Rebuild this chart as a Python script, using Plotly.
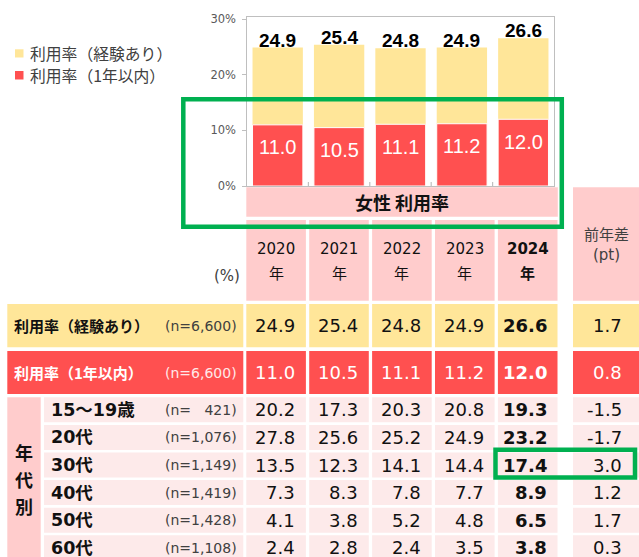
import plotly.graph_objects as go

# ---------------- data ----------------
years = [2020, 2021, 2022, 2023, 2024]
exp_rate = [24.9, 25.4, 24.8, 24.9, 26.6]        # 利用率（経験あり）
recent_rate = [11.0, 10.5, 11.1, 11.2, 12.0]     # 利用率（1年以内）
exp_diff = 1.7
recent_diff = 0.8
main_labels = ["利用率（経験あり）", "利用率（1年以内）"]
main_n = ["(n=6,600)", "(n=6,600)"]

age_labels = ["15～19歳", "20代", "30代", "40代", "50代", "60代"]
age_n = ["(n=\u2007\u2008421)", "(n=1,076)", "(n=1,149)", "(n=1,419)", "(n=1,428)", "(n=1,108)"]
age_15_19 = [20.2, 17.3, 20.3, 20.8, 19.3]
age_20s = [27.8, 25.6, 25.2, 24.9, 23.2]
age_30s = [13.5, 12.3, 14.1, 14.4, 17.4]
age_40s = [7.3, 8.3, 7.8, 7.7, 8.9]
age_50s = [4.1, 3.8, 5.2, 4.8, 6.5]
age_60s = [2.4, 2.8, 2.4, 3.5, 3.8]
age_diff = [-1.5, -1.7, 3.0, 1.2, 1.7, 0.3]
age_values = [age_15_19, age_20s, age_30s, age_40s, age_50s, age_60s]
y_ticks = [0, 10, 20, 30]

# ---------------- style ----------------
YELLOW = "#ffe699"
RED = "#ff5050"
PINK = "#ffcccc"
LIGHT = "#fdeaea"
GREEN = "#00b050"
DARK = "#111111"
GRAY = "#404040"
JP = "Noto Sans CJK JP"
NUM = "DejaVu Sans, Noto Sans CJK JP"
BARF = "Liberation Sans, Arial"

W, H = 639, 557
PL, PR, PT, PB = 247, 554, 17, 186


def X(px):
    return (px - PL) / (PR - PL)


def Y(py):
    return (PB - py) / (PB - PT)


fig = go.Figure()
fig.add_trace(go.Bar(
    x=years, y=exp_rate, name=main_labels[0], marker=dict(color=YELLOW, line=dict(width=0)),
    showlegend=False, hoverinfo="skip"))
fig.add_trace(go.Bar(
    x=years, y=recent_rate, name=main_labels[1], marker=dict(color=RED, line=dict(width=1, color="#ffffff")),
    showlegend=False, hoverinfo="skip"))

shapes = []
annotations = []


def rect(x0, y0, x1, y1, color):
    shapes.append(dict(type="rect", xref="paper", yref="paper", x0=X(x0), x1=X(x1), y0=Y(y1), y1=Y(y0),
                       fillcolor=color, line=dict(width=0), layer="above"))


def frame(x0, y0, x1, y1):
    shapes.append(dict(type="rect", xref="paper", yref="paper", x0=X(x0), x1=X(x1), y0=Y(y1), y1=Y(y0),
                       fillcolor="rgba(0,0,0,0)", line=dict(width=4.5, color=GREEN), layer="above"))


def text(px, py, t, size, color=DARK, family=NUM, anchor="center", bold=False):
    if bold:
        t = f"<b>{t}</b>"
    annotations.append(dict(xref="paper", yref="paper", x=X(px), y=Y(py), text=t, showarrow=False,
                            xanchor=anchor, yanchor="middle", align=anchor,
                            font=dict(family=family, size=size, color=color)))


# bar value labels
for yr, v in zip(years, exp_rate):
    annotations.append(dict(xref="x", yref="y", x=yr, y=v, yshift=7.5, text=f"<b>{v:.1f}</b>", showarrow=False,
                            yanchor="middle", font=dict(family=BARF, size=19, color="#000000")))
for yr, v in zip(years, recent_rate):
    annotations.append(dict(xref="x", yref="y", x=yr, y=v, yshift=-22.5, text=f"{v:.1f}", showarrow=False,
                            yanchor="middle", font=dict(family=BARF, size=20, color="#ffffff")))

# boundary ticks on the bar axis (between years)
for a, b in zip(years[:-1], years[1:]):
    shapes.append(dict(type="line", xref="x", yref="paper", x0=(a + b) / 2, x1=(a + b) / 2,
                       y0=0, y1=Y(PB - 4), line=dict(color="#bfbfbf", width=1.2), layer="above"))

# legend (manual)
rect(15, 49.3, 23.5, 57.5, YELLOW)
rect(15, 71, 23.5, 79.5, RED)
text(28, 53.3, main_labels[0], 15.8, GRAY, JP, "left")
text(28, 75, main_labels[1], 15.8, GRAY, JP, "left")

# column geometry
col_x0 = [246.3 + i * 62.9 for i in range(len(years))]
COLW = 59.6
DX0, DX1 = 573, 640

# header band
rect(246.3, 187.3, 557.8, 216.7, PINK)
text(402, 202, "女性 利用率", 18, DARK, JP, bold=True)
# year header cells
for i, yr in enumerate(years):
    rect(col_x0[i], 220, col_x0[i] + COLW, 300.7, PINK)
    b = i == len(years) - 1
    text(col_x0[i] + COLW / 2, 249, str(yr), 15, DARK, NUM, bold=b)
    text(col_x0[i] + COLW / 2, 272, "年", 15, DARK, JP, bold=b)
rect(DX0, 187.3, DX1, 300.7, PINK)
text(606, 233.3, "前年差", 15, GRAY, JP)
text(606, 255, "(pt)", 15, GRAY, NUM)
text(241.7, 275.7, "(%)", 15, GRAY, NUM, "right")

# main rows
main_rows = [(exp_rate, exp_diff, YELLOW, DARK, GRAY, 304, 347.3),
             (recent_rate, recent_diff, RED, "#ffffff", "#ffe8e8", 351, 394)]
for k, (vals, dv, bg, fg, ncol, y0, y1) in enumerate(main_rows):
    yc = (y0 + y1) / 2
    rect(7.3, y0, 243.3, y1, bg)
    text(11.7, yc, main_labels[k], 15, fg, JP, "left", bold=True)
    text(238.5, yc, main_n[k], 14, ncol, NUM, "right")
    for i, v in enumerate(vals):
        rect(col_x0[i], y0, col_x0[i] + COLW, y1, bg)
        text(col_x0[i] + COLW - 9, yc, f"{v:.1f}", 18, fg, NUM, "right", bold=(i == len(vals) - 1))
    rect(DX0, y0, DX1, y1, bg)
    text(623.5, yc, f"{dv:.1f}", 18, fg, NUM, "right")

# age rows
rect(7.3, 397.3, 40.7, 560, PINK)
for j, ch in enumerate("年代別"):
    text(24.2, 452.5 + j * 26.7, ch, 18, DARK, JP, bold=True)
for r, (lab, n, vals, dv) in enumerate(zip(age_labels, age_n, age_values, age_diff)):
    y0 = 397.3 + r * 27.6
    y1 = y0 + 25
    yc = (y0 + y1) / 2
    rect(44, y0, 243.3, y1, LIGHT)
    text(48.5, yc, lab, 17.5, DARK, NUM, "left", bold=True)
    text(238.5, yc, n, 14, GRAY, NUM, "right")
    for i, v in enumerate(vals):
        rect(col_x0[i], y0, col_x0[i] + COLW, y1, LIGHT)
        text(col_x0[i] + COLW - 9, yc, f"{v:.1f}", 18, DARK, NUM, "right", bold=(i == len(vals) - 1))
    rect(DX0, y0, DX1, y1, LIGHT)
    text(623.5, yc, f"{dv:.1f}", 18, DARK, NUM, "right")

# green highlight frames
frame(183.3, 99.3, 561.8, 226.8)
frame(495.5, 449.8, 635, 477.6)

fig.update_layout(
    width=W, height=H, margin=dict(l=PL, r=W - PR, t=PT, b=H - PB, pad=0),
    paper_bgcolor="#ffffff", plot_bgcolor="#ffffff",
    barmode="overlay", bargap=0.18,
    shapes=shapes, annotations=annotations, showlegend=False,
    xaxis=dict(range=[years[0] - 0.5, years[-1] + 0.5], showticklabels=False, ticks="",
               showline=True, mirror=True, linecolor="#bfbfbf", linewidth=1.2,
               showgrid=False, zeroline=False, fixedrange=True),
    yaxis=dict(range=[0, 30.4], tickvals=y_ticks, ticktext=[f"{t}%\u00a0" for t in y_ticks], ticks="outside",
               ticklen=4, tickcolor="#bfbfbf", showline=True, mirror=True, linecolor="#bfbfbf",
               linewidth=1.2, showgrid=False, zeroline=False,
               tickfont=dict(family="DejaVu Sans", size=11.5, color="#595959"), fixedrange=True),
)

fig.write_html("out.html", config={"displayModeBar": False},
               post_script="document.body.style.margin='0px';document.body.style.overflow='hidden';")
